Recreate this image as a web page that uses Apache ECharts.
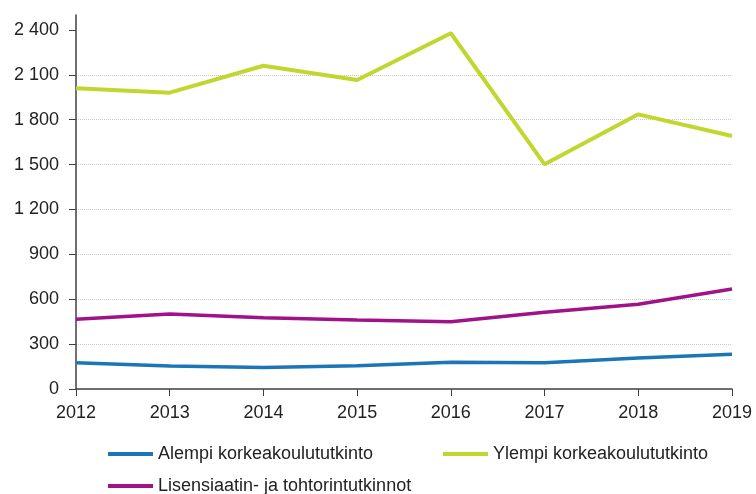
<!DOCTYPE html>
<html>
<head>
<meta charset="utf-8">
<script src="https://cdn.jsdelivr.net/npm/echarts@6/dist/echarts.min.js"></script>
<style>
	html, body { margin: 0; padding: 0; background: #fff; }
	#chart { width: 756px; height: 494px; }
</style>
</head>
<body>
<div id="chart"></div>
<script>
	var years = ['2012', '2013', '2014', '2015', '2016', '2017', '2018', '2019'];
	var alempi = [176, 154, 143, 156, 178, 176, 207, 232];
	var ylempi = [2010, 1981, 2161, 2066, 2378, 1502, 1836, 1691];
	var lisensiaatin = [466, 501, 477, 461, 450, 513, 566, 668];
	var yTicks = [0, 300, 600, 900, 1200, 1500, 1800, 2100, 2400];

	var blue = '#1b75b6';
	var green = '#c1d72f';
	var purple = '#a1118a';
	var font = 'Liberation Sans, Arial, sans-serif';

	function fmt(v) {
		return String(v).replace(/\B(?=(\d{3})+(?!\d))/g, ' ');
	}

	function legendAt(name, left, top) {
		return {
			data: [name],
			left: left,
			top: top,
			icon: 'rect',
			itemWidth: 45,
			itemHeight: 4,
			itemGap: 0,
			textStyle: {
				fontSize: 18,
				color: '#222',
				fontFamily: font
			}
		};
	}

	var option = {
		animation: false,
		grid: {
			left: 76,
			right: 24,
			top: 15,
			bottom: 105
		},
		legend: [
			legendAt('Alempi korkeakoulututkinto', 103, 440),
			legendAt('Ylempi korkeakoulututkinto', 438, 440),
			legendAt('Lisensiaatin- ja tohtorintutkinnot', 103, 472)
		],
		xAxis: {
			type: 'category',
			data: years,
			boundaryGap: false,
			axisLine: {
				lineStyle: {
					color: '#404040',
					width: 1.5
				}
			},
			axisTick: {
				show: true,
				length: 7,
				lineStyle: {
					color: '#404040'
				}
			},
			axisLabel: {
				margin: 15,
				fontSize: 18,
				color: '#222',
				fontFamily: font
			}
		},
		yAxis: {
			type: 'value',
			min: 0,
			max: 2500,
			interval: 300,
			axisLine: {
				show: true,
				lineStyle: {
					color: '#404040',
					width: 1.5
				}
			},
			axisTick: {
				show: true,
				length: 7,
				customValues: yTicks,
				lineStyle: {
					color: '#404040'
				}
			},
			axisLabel: {
				customValues: yTicks,
				margin: 17,
				fontSize: 18,
				color: '#222',
				fontFamily: font,
				formatter: fmt
			},
			splitLine: {
				show: true,
				showMinLine: false,
				showMaxLine: false,
				lineStyle: {
					color: '#c8c8c8',
					type: 'dotted',
					width: 1
				}
			}
		},
		series: [{
				name: 'Alempi korkeakoulututkinto',
				type: 'line',
				data: alempi,
				symbol: 'none',
				color: blue,
				lineStyle: {
					width: 3.5
				}
			},
			{
				name: 'Ylempi korkeakoulututkinto',
				type: 'line',
				data: ylempi,
				symbol: 'none',
				color: green,
				lineStyle: {
					width: 4
				}
			},
			{
				name: 'Lisensiaatin- ja tohtorintutkinnot',
				type: 'line',
				data: lisensiaatin,
				symbol: 'none',
				color: purple,
				lineStyle: {
					width: 3.5
				}
			}
		]
	};

	var chart = echarts.init(document.getElementById('chart'));
	chart.setOption(option);
</script>
</body>
</html>
